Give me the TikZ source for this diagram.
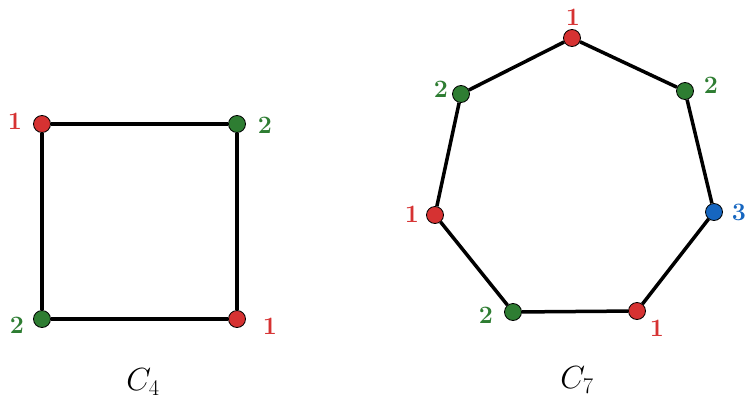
\RequirePackage{fix-cm}
\documentclass[tikz,border=0pt]{standalone}
\usepackage{fontspec}
\begin{document}
\begin{tikzpicture}[x=1pt, y=-1pt]
    \definecolor{colred}{RGB}{214,50,50}
    \definecolor{colgreen}{RGB}{46,125,50}
    \definecolor{colblue}{RGB}{22,102,192}
    \tikzset{
      vtx/.style={circle, draw=black, line width=0.8pt, minimum size=17pt, inner sep=0pt},
      edge/.style={line width=3.5pt, black},
      num/.style={font=\fontsize{25}{27}\selectfont\bfseries},
      cname/.style={font=\fontsize{32}{34}\selectfont}
    }
    \useasboundingbox (0,0) rectangle (745,410);

    % C4
    \node[vtx, fill=colred]   (a1) at (42,124)  {};
    \node[vtx, fill=colgreen] (a2) at (237,124) {};
    \node[vtx, fill=colgreen] (a3) at (42,319)  {};
    \node[vtx, fill=colred]   (a4) at (237,319) {};

    \node[num, colred]   (la1) at (15,121)  {1};
    \node[num, colgreen] (la2) at (265,125) {2};
    \node[num, colgreen] (la3) at (17,325)  {2};
    \node[num, colred]   (la4) at (270,326) {1};

    % C7
    \node[vtx, fill=colred]   (b1) at (572,38)  {};
    \node[vtx, fill=colgreen] (b2) at (685,91)  {};
    \node[vtx, fill=colblue]  (b3) at (714,212) {};
    \node[vtx, fill=colred]   (b4) at (637,311) {};
    \node[vtx, fill=colgreen] (b5) at (513,312) {};
    \node[vtx, fill=colred]   (b6) at (435,215) {};
    \node[vtx, fill=colgreen] (b7) at (461,94)  {};

    \node[num, colred]   (lb1) at (573,17)  {1};
    \node[num, colgreen] (lb2) at (711,85)  {2};
    \node[num, colblue]  (lb3) at (739,212) {3};
    \node[num, colred]   (lb4) at (657,328) {1};
    \node[num, colgreen] (lb5) at (486,315) {2};
    \node[num, colred]   (lb6) at (412,214) {1};
    \node[num, colgreen] (lb7) at (441,89)  {2};

    \draw[edge] (a1) -- (a2) -- (a4) -- (a3) -- (a1);
    \draw[edge] (b1) -- (b2) -- (b3) -- (b4) -- (b5) -- (b6) -- (b7) -- (b1);

    \node[cname] (c4) at (143,382) {$C_4$};
    \node[cname] (c7) at (577,380) {$C_7$};
\end{tikzpicture}
\end{document}
